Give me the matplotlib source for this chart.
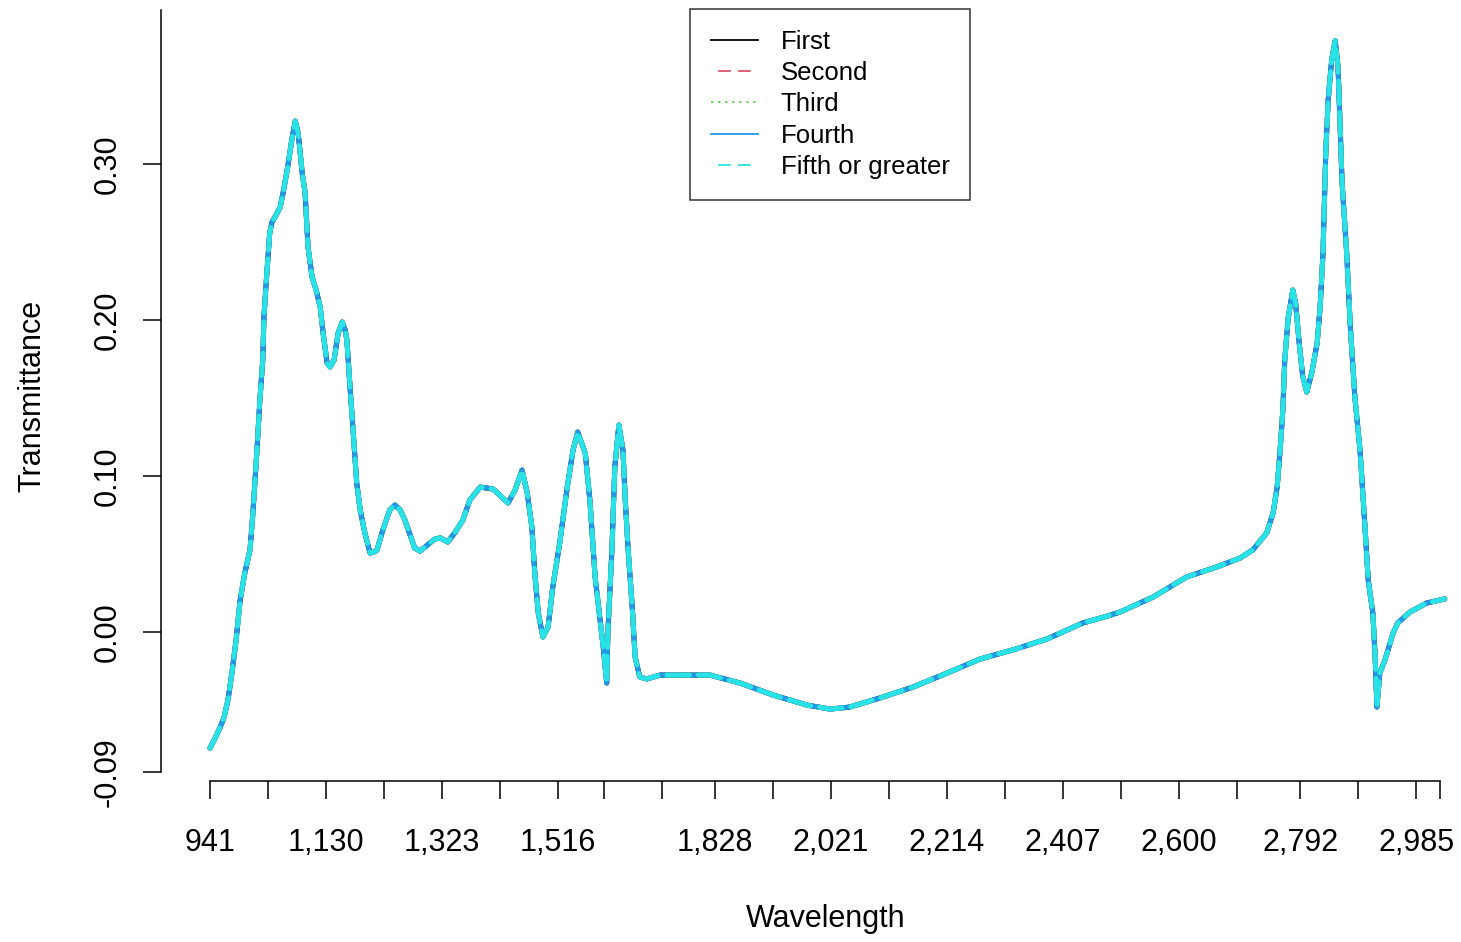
import matplotlib.pyplot as plt
from matplotlib.lines import Line2D

plt.rcParams['font.family'] = ['Liberation Sans', 'DejaVu Sans']

# spectrum (x = band index along the axis, y = transmittance)
band_index = [
    0.0, 0.9, 1.7, 2.4, 3.1, 3.8, 4.5, 5.2, 6.0, 6.9, 7.4, 8.1, 8.6, 9.1, 9.3, 9.8,
    10.3, 10.7, 11.4, 12.1, 12.6, 13.4, 14.1, 14.7, 15.2, 15.9, 16.4, 16.9, 17.6, 18.3,
    19.0, 19.5, 20.2, 20.7, 21.4, 22.1, 22.8, 23.3, 23.6, 24.1, 24.7, 25.3, 25.9, 26.7,
    27.6, 28.3, 28.8, 29.8, 31.0, 31.9, 32.8, 33.6, 34.5, 35.3, 36.2, 37.1, 37.9, 38.8,
    39.7, 41.0, 42.2, 43.6, 44.8, 46.6, 48.8, 50.3, 51.4, 52.6, 53.8, 54.7, 55.5, 56.0,
    56.6, 57.4, 58.3, 59.1, 60.3, 61.6, 62.6, 63.4, 64.7, 65.5, 66.4, 67.2, 67.8, 68.4,
    68.6, 69.3, 69.8, 70.5, 71.2, 71.6, 72.1, 72.8, 73.3, 74.1, 75.3, 77.6, 86.2, 91.4,
    97.1, 102.9, 106.9, 110.3, 115.5, 121.2, 127.1, 132.8, 138.4, 144.3, 150.5, 154.8,
    156.9, 162.6, 168.4, 173.6, 177.6, 179.8, 182.2, 183.3, 184.0, 184.5, 185.0, 185.3,
    185.9, 186.7, 187.2, 187.8, 188.4, 189.1, 190.0, 190.9, 191.4, 191.9, 192.4, 192.8,
    193.4, 194.0, 194.5, 194.8, 195.2, 196.0, 196.6, 197.4, 198.3, 199.1, 199.7, 200.5,
    200.9, 201.2, 201.7, 202.6, 204.0, 204.8, 206.9, 209.8, 212.9,
]
transmittance = [
    -0.0744, -0.0679, -0.0615, -0.0551, -0.0436, -0.0256, -0.0051, 0.0205, 0.0378, 0.0526,
    0.0763, 0.1167, 0.1487, 0.1744, 0.2019, 0.2301, 0.2558, 0.2628, 0.2673, 0.2724,
    0.2814, 0.2981, 0.3154, 0.3275, 0.3199, 0.2942, 0.2814, 0.2468, 0.2276, 0.2192,
    0.2083, 0.1917, 0.1724, 0.1699, 0.1744, 0.1917, 0.1987, 0.1936, 0.1872, 0.1596,
    0.1276, 0.0955, 0.0782, 0.0635, 0.0506, 0.0513, 0.0526, 0.0654, 0.0782, 0.0814,
    0.0782, 0.0718, 0.0622, 0.0538, 0.0519, 0.0545, 0.0571, 0.0596, 0.0603, 0.0577,
    0.0635, 0.0718, 0.0846, 0.0929, 0.0917, 0.0865, 0.0827, 0.0910, 0.1038, 0.0891,
    0.0673, 0.0378, 0.0122, -0.0032, 0.0032, 0.0288, 0.0571, 0.0929, 0.1167, 0.1282,
    0.1147, 0.0846, 0.0353, 0.0096, -0.0096, -0.0327, -0.0006, 0.0526, 0.1058, 0.1327,
    0.1167, 0.0846, 0.0526, 0.0160, -0.0160, -0.0288, -0.0301, -0.0276, -0.0276, -0.0327,
    -0.0404, -0.0468, -0.0494, -0.0481, -0.0423, -0.0353, -0.0263, -0.0173, -0.0115, -0.0045,
    0.0058, 0.0103, 0.0128, 0.0224, 0.0353, 0.0417, 0.0474, 0.0526, 0.0635, 0.0763,
    0.0929, 0.1160, 0.1436, 0.1737, 0.2013, 0.2192, 0.2103, 0.1853, 0.1641, 0.1538,
    0.1667, 0.1853, 0.2077, 0.2423, 0.3090, 0.3410, 0.3667, 0.3790, 0.3622, 0.3301,
    0.2878, 0.2423, 0.1968, 0.1506, 0.1160, 0.0699, 0.0333, 0.0122, -0.0160, -0.0481,
    -0.0263, -0.0179, -0.0006, 0.0058, 0.0128, 0.0186, 0.0212,
]

series_names = ["First", "Second", "Third", "Fourth", "Fifth or greater"]

x_ticks = [0, 10, 20, 30, 40, 50, 60, 68, 78, 87, 97, 107, 117, 127, 137, 147,
           157, 167, 177, 188, 198, 208, 212]
x_tick_labels = ["941", "", "1,130", "", "1,323", "", "1,516", "", "", "1,828", "",
                 "2,021", "", "2,214", "", "2,407", "", "2,600", "", "2,792", "",
                 "2,985", ""]
y_ticks = [-0.09, 0.0, 0.10, 0.20, 0.30]
y_tick_labels = ["-0.09", "0.00", "0.10", "0.20", "0.30"]

# R default palette colours and line types
colors = ["black", "#DF536B", "#61D04F", "#2297E6", "#28E2E5"]
plot_styles = ["-", (0, (4.5, 1.8)), (0, (0.4, 2.2)), "-", (0, (4.5, 1.8))]
legend_styles = ["-", (7, (7, 4)), (0, (1.3, 2.6)), "-", (7, (7, 4))]


def main():
    fig = plt.figure(figsize=(14.61, 9.42), dpi=100)
    W, H = 1461, 942
    ax = fig.add_axes([160.7 / W, 1 - 781 / H, (W - 160.7) / W, (781 - 10) / H])

    for name, col, ls in zip(series_names, colors, plot_styles):
        ax.plot(band_index, transmittance, color=col, linestyle=ls, linewidth=3.6,
                dash_capstyle="round", solid_capstyle="round", solid_joinstyle="round")

    ax.set_xlim(-8.5, 215.7)
    ax.set_ylim(-0.0955, 0.3987)

    for side in ["top", "right"]:
        ax.spines[side].set_visible(False)
    ax.spines["left"].set_bounds(-0.09, 0.3987)
    ax.spines["bottom"].set_bounds(0, 212)
    for side in ["left", "bottom"]:
        ax.spines[side].set_linewidth(1.1)

    ax.set_xticks(x_ticks)
    ax.set_xticklabels(x_tick_labels)
    ax.set_yticks(y_ticks)
    ax.set_yticklabels(y_tick_labels, rotation=90, va="center")
    ax.tick_params(axis="both", length=13.3, width=1.1, labelsize=22, color="black")
    ax.tick_params(axis="x", pad=20.5)
    ax.tick_params(axis="y", pad=14)

    ax.set_xlabel("Wavelength", fontsize=22, labelpad=34)
    ax.xaxis.set_label_coords(0.5117, -0.160)
    ax.set_ylabel("Transmittance", fontsize=22, labelpad=33)

    handles = [Line2D([], [], color=c, linestyle=ls, linewidth=1.3)
               for c, ls in zip(colors, legend_styles)]
    leg = fig.legend(handles, series_names, loc="upper left",
                     bbox_to_anchor=(690 / W, 1 - 9 / H), bbox_transform=fig.transFigure,
                     fontsize=18.5, frameon=True, fancybox=False, borderaxespad=0,
                     handlelength=1.83, handletextpad=0.9, labelspacing=0.29,
                     borderpad=0.8)
    leg.get_frame().set_edgecolor("black")
    leg.get_frame().set_linewidth(1.1)

    fig.savefig("out.png", dpi=100)


if __name__ == "__main__":
    main()
